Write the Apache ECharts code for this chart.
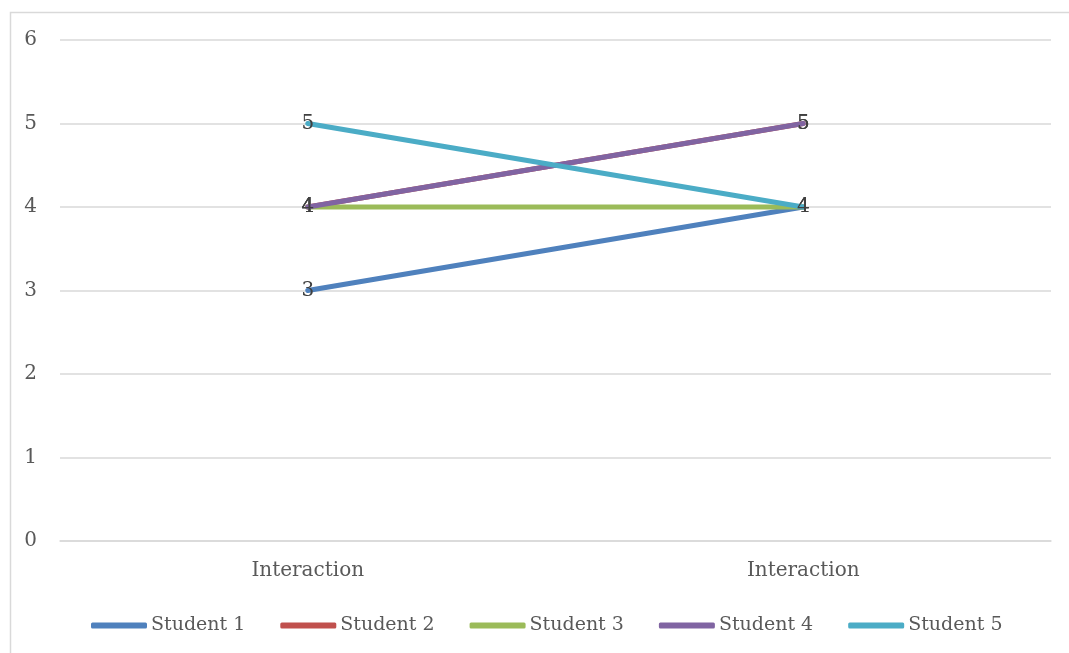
<!DOCTYPE html>
<html>
<head>
<meta charset="utf-8">
<title>Interaction scores</title>
<script src="https://cdn.jsdelivr.net/npm/echarts@6/dist/echarts.min.js"></script>
<style>
  html, body { margin: 0; padding: 0; background: #fff; }
  #chart { width: 1069px; height: 653px; }
</style>
</head>
<body>
<div id="chart"></div>
<script>
// Two measurements of interaction per student
const categories = ['Interaction', 'Interaction'];
const student1 = [3, 4];
const student2 = [4, 5];
const student3 = [4, 4];
const student4 = [4, 5];
const student5 = [5, 4];
const yTicks = [0, 1, 2, 3, 4, 5, 6];

const seriesNames = ['Student 1', 'Student 2', 'Student 3', 'Student 4', 'Student 5'];
const seriesData = [student1, student2, student3, student4, student5];
const colors = ['#4F81BD', '#C0504D', '#9BBB59', '#8064A2', '#4BACC6'];

const FONT = 'DejaVu Serif';
const TEXT = '#595959';

const chart = echarts.init(document.getElementById('chart'));
chart.setOption({
  animation: false,
  color: colors,
  textStyle: { fontFamily: FONT },
  graphic: [{
    type: 'rect',
    left: 8, top: 10,
    shape: { width: 1080, height: 660 },
    style: { fill: 'none', stroke: '#d9d9d9', lineWidth: 1.5 },
    silent: true
  }],
  grid: { left: 60, right: 18, top: 40, bottom: 112, containLabel: false },
  legend: {
    bottom: 13,
    left: 86,
    icon: 'roundRect',
    itemWidth: 56,
    itemHeight: 6,
    itemGap: 35,
    textStyle: { color: TEXT, fontSize: 19, fontFamily: FONT, padding: [0, 0, 0, -1] },
    data: seriesNames
  },
  xAxis: {
    type: 'category',
    data: categories,
    boundaryGap: true,
    axisLine: { show: true, lineStyle: { color: '#d9d9d9', width: 1.5 } },
    axisTick: { show: false },
    axisLabel: { color: TEXT, fontSize: 20, fontFamily: FONT, margin: 20 }
  },
  yAxis: {
    type: 'value',
    min: yTicks[0],
    max: yTicks[yTicks.length - 1],
    interval: 1,
    axisLine: { show: false },
    axisTick: { show: false },
    splitLine: { lineStyle: { color: '#d9d9d9', width: 1.5 } },
    axisLabel: { color: TEXT, fontSize: 20, fontFamily: FONT, margin: 23 }
  },
  series: seriesNames.map((name, i) => ({
    name,
    type: 'line',
    data: seriesData[i],
    lineStyle: { width: 5, color: colors[i], cap: 'round' },
    itemStyle: { color: colors[i] },
    symbol: 'circle',
    symbolSize: 1,
    showSymbol: true,
    z: 2 + i,
    label: {
      show: true,
      position: 'inside',
      color: '#404040',
      fontSize: 20,
      fontFamily: FONT
    }
  }))
});
</script>
</body>
</html>
